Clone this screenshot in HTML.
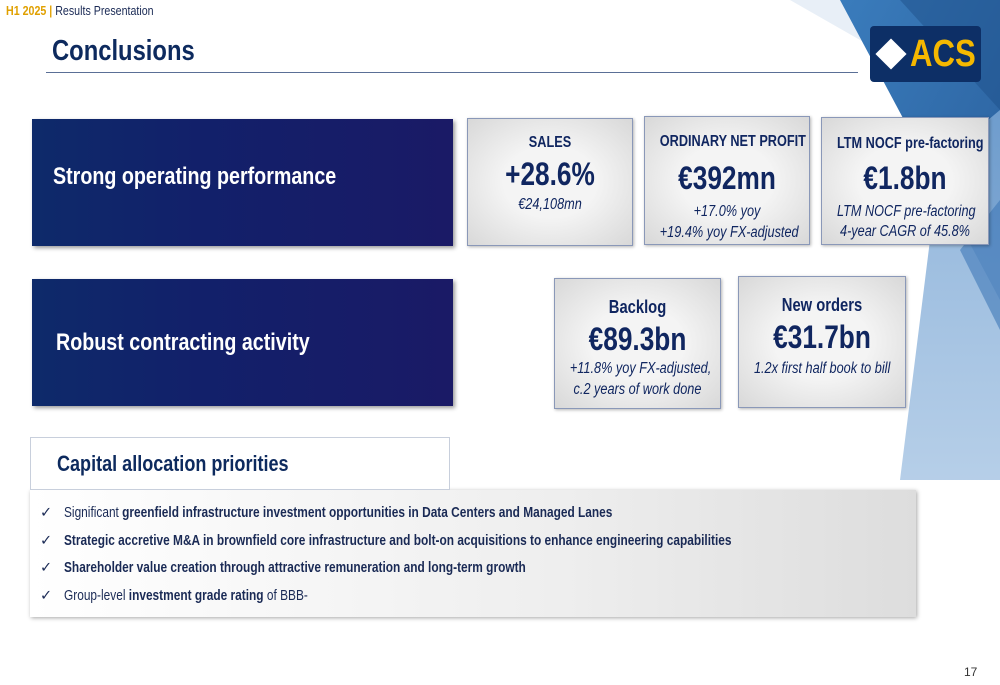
<!DOCTYPE html>
<html><head><meta charset="utf-8"><style>
body{margin:0;width:1000px;height:685px;overflow:hidden;background:#fff;font-family:"Liberation Sans",sans-serif;position:relative;color:#0d2a5e}
.abs{position:absolute}
.n{display:inline-block;transform:scaleX(.82);white-space:nowrap;transform-origin:left center}
.c{display:block;transform:scaleX(.82);white-space:nowrap;transform-origin:center center}
.dark{background:linear-gradient(90deg,#0e2a6a 0%,#12206a 40%,#1a1a66 100%);color:#fff;font-weight:bold;box-shadow:2px 2px 4px rgba(0,0,0,.4)}
.card{background:radial-gradient(ellipse at center,#f4f4f4 40%,#d8d8d8 100%);border:1px solid #8a98b8;text-align:center;color:#102660;box-shadow:1px 1px 3px rgba(0,0,0,.3)}
.t{font-weight:bold;font-size:15.5px}
.v{font-weight:bold;font-size:32px}
.s{font-style:italic;font-size:15.5px;line-height:20px}
li{list-style:none;position:relative;padding-left:34px;height:27.7px;line-height:27px;font-size:14.5px;color:#1a2a55}
li:before{content:"✓";position:absolute;left:10px}
</style></head><body>
<svg class="abs" style="left:0;top:0" width="1000" height="685">
<defs><linearGradient id="g1" x1="0" y1="0" x2="1" y2="1"><stop offset="0" stop-color="#3a7cbc"/><stop offset="1" stop-color="#2a5f9c"/></linearGradient>
<linearGradient id="g2" x1="0" y1="0" x2="0" y2="1"><stop offset="0" stop-color="#7aa6d4"/><stop offset="1" stop-color="#a9c6e4"/></linearGradient></defs>
<polygon points="790,0 1000,0 1000,120" fill="#e8eff7"/>
<polygon points="840,0 1000,0 1000,300" fill="url(#g1)"/>
<polygon points="900,0 1000,0 1000,110" fill="#1e4f8a" opacity=".5"/>
<polygon points="940,160 1000,110 1000,480 900,480" fill="url(#g2)" opacity=".85"/>
<polygon points="960,250 1000,200 1000,330" fill="#3f78b8" opacity=".6"/>
</svg>
<div class="abs" style="left:6px;top:3px;font-size:13px;color:#1a2a55"><span class="n"><b style="color:#e0a000">H1 2025</b> <b style="color:#e0a000">|</b> Results Presentation</span></div>
<div class="abs" style="left:52px;top:35px;font-size:29px;font-weight:bold;color:#0d2a5e"><span class="n">Conclusions</span></div>
<div class="abs" style="left:46px;top:72px;width:812px;height:1px;background:#5a6f96"></div>
<div class="abs" style="left:870px;top:26px;width:111px;height:56px;background:#0d2f66;border-radius:4px;color:#f5b800;font-weight:bold;font-size:38px;line-height:56px;box-sizing:border-box">
<span style="position:absolute;left:10px;top:17px;width:22px;height:22px;background:#fff;transform:rotate(45deg)"></span><span class="n" style="position:absolute;left:40px;top:0">ACS</span></div>

<div class="abs dark" style="left:32px;top:119px;width:421px;height:127px;font-size:24px;line-height:116px;padding-left:21px;box-sizing:border-box"><span class="n">Strong operating performance</span></div>
<div class="abs card" style="left:467px;top:118px;width:164px;height:126px"><div class="t c" style="margin-top:15px">SALES</div><div class="v c" style="margin-top:4px">+28.6%</div><div class="s c" style="margin-top:2px">€24,108mn</div></div>
<div class="abs card" style="left:644px;top:116px;width:164px;height:127px"><div class="t c" style="margin-top:16px">ORDINARY NET PROFIT</div><div class="v c" style="margin-top:9px">€392mn</div><div class="s c" style="margin-top:4px;line-height:21px">+17.0% yoy</div><div class="s c" style="line-height:21px">+19.4% yoy FX-adjusted</div></div>
<div class="abs card" style="left:821px;top:117px;width:166px;height:126px"><div class="t c" style="margin-top:17px">LTM NOCF pre-factoring</div><div class="v c" style="margin-top:7px">€1.8bn</div><div class="s c" style="margin-top:5px">LTM NOCF pre-factoring</div><div class="s c">4-year CAGR of 45.8%</div></div>

<div class="abs dark" style="left:32px;top:279px;width:421px;height:127px;font-size:24px;line-height:127px;padding-left:24px;box-sizing:border-box"><span class="n">Robust contracting activity</span></div>
<div class="abs card" style="left:554px;top:278px;width:165px;height:129px"><div class="t c" style="margin-top:18px;font-size:18px">Backlog</div><div class="v c" style="margin-top:3px">€89.3bn</div><div class="s c" style="line-height:21px">+11.8% yoy FX-adjusted,</div><div class="s c" style="line-height:21px">c.2 years of work done</div></div>
<div class="abs card" style="left:738px;top:276px;width:166px;height:130px"><div class="t c" style="margin-top:18px;font-size:18px">New orders</div><div class="v c" style="margin-top:3px">€31.7bn</div><div class="s c" style="margin-top:3px">1.2x first half book to bill</div></div>

<div class="abs" style="left:30px;top:490px;width:886px;height:127px;background:linear-gradient(90deg,#fff 0%,#eee 60%,#ddd 100%);box-shadow:1px 1px 4px rgba(0,0,0,.35)">
<ul style="margin:10px 0 0 0;padding:0">
<li><span class="n">Significant <b>greenfield infrastructure investment opportunities in Data Centers and Managed Lanes</b></span></li>
<li><span class="n"><b>Strategic accretive M&amp;A in brownfield core infrastructure and bolt-on acquisitions to enhance engineering capabilities</b></span></li>
<li><span class="n"><b>Shareholder value creation through attractive remuneration and long-term growth</b></span></li>
<li><span class="n">Group-level <b>investment grade rating</b> of BBB-</span></li>
</ul></div>
<div class="abs" style="left:30px;top:437px;width:420px;height:53px;background:#fff;border:1px solid #c8cfdc;box-sizing:border-box;font-weight:bold;font-size:22px;line-height:52px;padding-left:26px;color:#0d2a5e"><span class="n">Capital allocation priorities</span></div>
<div class="abs" style="left:964px;top:665px;font-size:12px;color:#333">17</div>
</body></html>
